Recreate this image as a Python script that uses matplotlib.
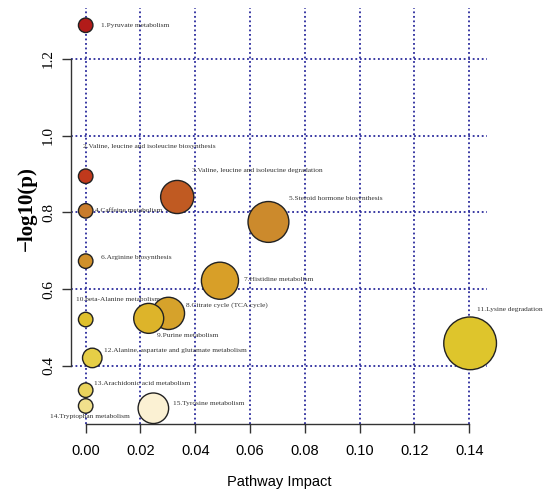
import matplotlib
matplotlib.use("Agg")
import matplotlib.pyplot as plt
import numpy as np

# pathway impact vs -log10(p)
pathways = [
    "1.Pyruvate metabolism",
    "2.Valine, leucine and isoleucine biosynthesis",
    "3.Valine, leucine and isoleucine degradation",
    "4.Caffeine metabolism",
    "5.Steroid hormone biosynthesis",
    "6.Arginine biosynthesis",
    "7.Histidine metabolism",
    "8.Citrate cycle (TCA cycle)",
    "9.Purine metabolism",
    "10.beta-Alanine metabolism",
    "11.Lysine degradation",
    "12.Alanine, aspartate and glutamate metabolism",
    "13.Arachidonic acid metabolism",
    "14.Tryptophan metabolism",
    "15.Tyrosine metabolism",
]
impact = [0.0, 0.0, 0.0334, 0.0, 0.0667, 0.0, 0.049, 0.0302, 0.023,
          0.0, 0.1403, 0.0024, 0.0, 0.0, 0.0247]
neglogp = [1.287, 0.894, 0.840, 0.804, 0.775, 0.673, 0.622, 0.537, 0.524,
           0.521, 0.459, 0.421, 0.337, 0.296, 0.290]

x_ticks = [0.00, 0.02, 0.04, 0.06, 0.08, 0.10, 0.12, 0.14]
y_ticks = [0.4, 0.6, 0.8, 1.0, 1.2]

# styling
colors = ["#B21B19", "#C0391C", "#C05A22", "#C97C2C", "#CC8A2C", "#D0902B",
          "#D89F28", "#D6A22B", "#DDB42A", "#DFC02D", "#DEC52C", "#E6CE46",
          "#E9D35C", "#F1E08C", "#FBF1D3"]
# label offsets from the bubble centre, in pixels (right, up)
label_off = [(15, 0), (-3, 30), (15, 26), (9, 0), (21, 23), (15, 4),
             (24, 1), (18, 8), (8, -17), (-10, 20), (7, 34), (12, 7),
             (8, 7), (-36, -11), (20, 5)]

serif = ["Liberation Serif", "DejaVu Serif"]
sans = ["Liberation Sans", "DejaVu Sans"]

fig = plt.figure(figsize=(5.5, 4.96), dpi=100)
ax = fig.add_axes([71 / 550, 1 - 424 / 496, 416 / 550, 416 / 496])

imp = np.array(impact)
diam_px = 14.5 + 102 * np.sqrt(imp)
sizes = (diam_px * 0.72) ** 2
ax.scatter(impact, neglogp, s=sizes, c=colors, edgecolors="#222222",
           linewidths=1.0, zorder=3, clip_on=False)

for name, xv, yv, (dx, dy) in zip(pathways, impact, neglogp, label_off):
    ax.annotate(name, (xv, yv), xytext=(dx * 0.72, dy * 0.72),
                textcoords="offset points", ha="left", va="center",
                fontsize=5.3, family=serif, color="#333333", zorder=4)

ax.set_xlim(-0.00536, 0.14646)
ax.set_ylim(0.249, 1.332)
ax.set_xticks(x_ticks)
ax.set_yticks(y_ticks)
ax.set_xticklabels([f"{v:.2f}" for v in x_ticks], family=sans, fontsize=10.5)
ax.set_yticklabels([f"{v:.1f}" for v in y_ticks], family=serif, fontsize=11,
                   rotation=90, va="center")
ax.tick_params(axis="x", length=6.5, width=1, color="#333333", pad=8)
ax.tick_params(axis="y", length=6.5, width=1, color="#333333", pad=5)

ax.grid(True, linestyle=(0, (1, 1.5)), color="#2a2a9c", linewidth=1.3, zorder=1)
ax.set_axisbelow(True)

for side in ["top", "right"]:
    ax.spines[side].set_visible(False)
ax.spines["left"].set_bounds(0.4, 1.2)
ax.spines["bottom"].set_bounds(0.0, 0.14)
for side in ["left", "bottom"]:
    ax.spines[side].set_color("#333333")
    ax.spines[side].set_linewidth(1.0)

ax.set_xlabel("Pathway Impact", family=sans, fontsize=10.5, labelpad=12)
ax.set_ylabel("\u2212log10(p)", family=serif, fontsize=15, fontweight="bold",
              va="center")
ax.yaxis.set_label_coords(-0.106, 0.519)

fig.savefig("out.png", dpi=100)
